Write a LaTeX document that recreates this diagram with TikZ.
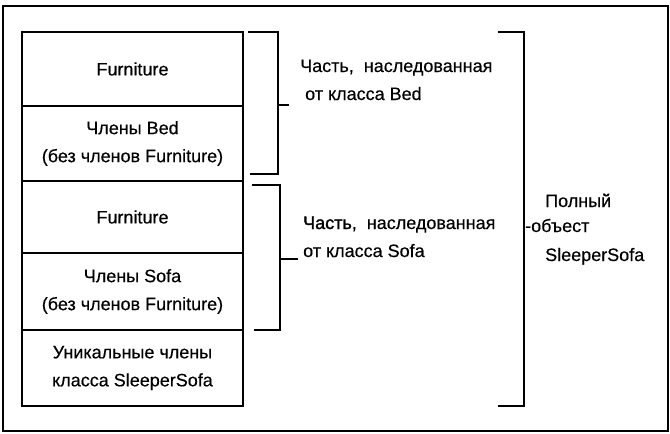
\documentclass[tikz,border=0pt]{standalone}
\usepackage{fontspec}
\setmainfont{Liberation Sans}[FakeBold=0.35]
\newfontfamily\heavyfont{Liberation Sans}[FakeBold=1.6]
\begin{document}
\begin{tikzpicture}[x=1pt,y=-1pt,
  layer/.style={draw,line width=1.3pt,minimum width=221pt,inner sep=0pt,outer sep=0pt,
    anchor=north west,align=center,font=\fontsize{18}{28}\selectfont},
  brk/.style={line width=1.8pt},
  lbl/.style={anchor=base west,inner sep=0pt,align=left,font=\fontsize{18}{28}\selectfont}]
\useasboundingbox (0,0) rectangle (670,434);
% outer frame
\draw[line width=1.2pt] (3,6) rectangle (668,431);
% the stacked layers of a SleeperSofa object
\node[layer,minimum height=74pt] (f1) at (22,32) {Furniture};
\node[layer,minimum height=75pt] (bed) at (22,106) {Члены Bed\\(без членов Furniture)};
\node[layer,minimum height=72pt] (f2) at (22,181) {Furniture};
\node[layer,minimum height=77pt] (sofa) at (22,253) {Члены Sofa\\(без членов Furniture)};
\node[layer,minimum height=76pt] (uniq) at (22,330) {Уникальные члены\\класса SleeperSofa};
% bracket for the Bed part
\coordinate (b1) at (248,32);
\coordinate (b2) at (250,174);
\draw[brk] (b1) -- (278,32) -- (278,174) -- (b2);
\draw[brk] (278,105) -- (289,105);
\node[lbl] (lbed) at (300,100) {Часть,\ \ наследованная\\\ от класса Bed};
% bracket for the Sofa part
\coordinate (s1) at (252,185);
\coordinate (s2) at (254,330);
\draw[brk] (s1) -- (280,185) -- (280,330) -- (s2);
\draw[brk] (280,259) -- (298,259);
\node[lbl] (lsofa) at (303,257) {{\heavyfont Часть},\ \ наследованная\\от класса Sofa};
% bracket for the whole object
\coordinate (w1) at (498,32);
\coordinate (w2) at (498,406);
\draw[brk] (w1) -- (524,32) -- (524,406) -- (w2);
\node[lbl] (lwhole) at (545,207) {Полный};
\node[lbl] (lwhole2) at (525,232) {-объест};
\node[lbl] (lwhole3) at (545,261) {SleeperSofa};
\end{tikzpicture}
\end{document}
